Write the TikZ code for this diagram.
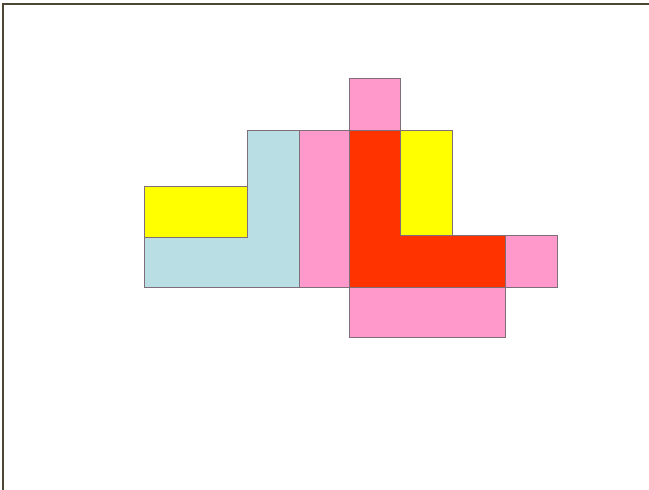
\documentclass[tikz,border=0pt]{standalone}
\usepackage{tikz}

\definecolor{tileyellow}{HTML}{FFFF00}
\definecolor{tileblue}{HTML}{B9DFE4}
\definecolor{tilepink}{HTML}{FF99CC}
\definecolor{tilered}{HTML}{FF3300}
\definecolor{tileedge}{HTML}{7D6E7A}
\definecolor{frameline}{HTML}{4B4732}

\begin{document}
\begin{tikzpicture}[x=1pt,y=-1pt,line join=miter,
                    tile/.style={draw=tileedge,line width=0.9pt},
                    frame/.style={draw=frameline,line width=2.2pt}]
  \useasboundingbox (0,0) rectangle (649,490);
  \draw[frame] (3,490) -- (3,4) -- (649,4);
  % left group
  \path[tile,fill=tileblue] (247,130) -- (299,130) -- (299,287) -- (144,287)
        -- (144,237) -- (247,237) -- cycle;
  \path[tile,fill=tileyellow] (144,186) rectangle (247,237);
  \path[tile,fill=tilepink] (299,130) rectangle (349,287);
  % right group
  \path[tile,fill=tilepink] (349,78) rectangle (400,130);
  \path[tile,fill=tilepink] (349,287) rectangle (505,337);
  \path[tile,fill=tilepink] (505,235) rectangle (557,287);
  \path[tile,fill=tileyellow] (400,130) rectangle (452,235);
  \path[tile,fill=tilered] (349,130) -- (400,130) -- (400,235) -- (505,235)
        -- (505,287) -- (349,287) -- cycle;
\end{tikzpicture}
\end{document}
